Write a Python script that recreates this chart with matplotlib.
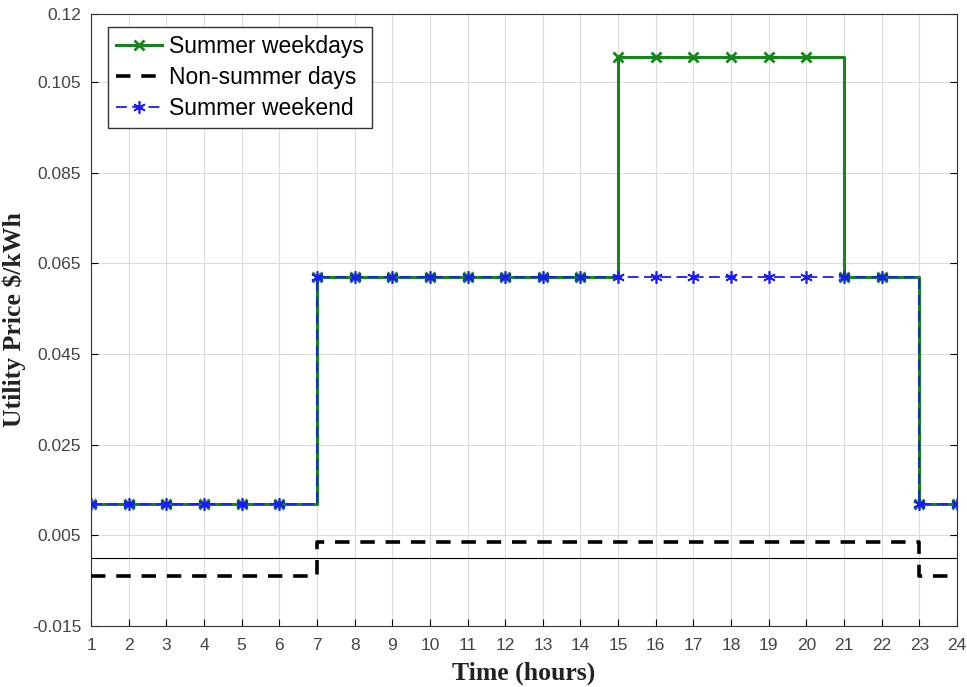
import matplotlib.pyplot as plt

hours = list(range(1, 25))
summer_weekdays = [0.012] * 6 + [0.062] * 8 + [0.1105] * 6 + [0.062] * 2 + [0.012] * 2
non_summer = [-0.004] * 6 + [0.0035] * 16 + [-0.004] * 2
summer_weekend = [0.012] * 6 + [0.062] * 16 + [0.012] * 2

yticks = [-0.015, 0.005, 0.025, 0.045, 0.065, 0.085, 0.105, 0.12]
ytick_labels = ['-0.015', '0.005', '0.025', '0.045', '0.065', '0.085', '0.105', '0.12']


def main():
    plt.rcParams['font.family'] = ['Liberation Sans', 'DejaVu Sans']
    fig = plt.figure(figsize=(9.67, 6.87), dpi=100)
    ax = fig.add_axes([91 / 967, 1 - 626 / 687, (957 - 91) / 967, (626 - 14) / 687])

    ax.axhline(0, color='black', lw=0.8, zorder=1)
    ax.plot(hours, summer_weekdays, drawstyle='steps-post', color='#15871a',
            lw=2.2, marker='x', ms=7, mew=2, label='Summer weekdays', zorder=3)
    ax.plot(hours, non_summer, drawstyle='steps-post', color='black',
            lw=2.6, ls=(0, (4, 3)), label='Non-summer days', zorder=3)
    ax.plot(hours, summer_weekend, drawstyle='steps-post', color='#1a1aff',
            lw=1.3, ls=(0, (6, 3)), marker=(6, 2, 0), ms=9, mew=1.2,
            label='Summer weekend', zorder=4)

    ax.set_xlim(1, 24)
    ax.set_ylim(-0.015, 0.12)
    ax.set_xticks(hours)
    ax.set_yticks(yticks, ytick_labels)
    ax.grid(True, color='#dcdcdc', lw=0.8)
    ax.set_axisbelow(True)
    ax.tick_params(direction='in', labelsize=12.5, labelcolor='#444444',
                   length=5, top=False, right=True)
    ax.tick_params(axis='x', pad=9)
    ax.tick_params(axis='y', pad=7)
    for s in ax.spines.values():
        s.set_color('#333333')

    ax.set_xlabel('Time (hours)', fontsize=18.5, fontweight='bold',
                  family='Liberation Serif', color='#222222', labelpad=6)
    ax.set_ylabel('Utility Price $/kWh', fontsize=18.5, fontweight='bold',
                  family='Liberation Serif', color='#222222', labelpad=4)

    leg = ax.legend(loc='upper left', fontsize=16.5, fancybox=False,
                    edgecolor='#333333', framealpha=1, handlelength=2.0,
                    handletextpad=0.3, borderpad=0.35, labelspacing=0.35,
                    borderaxespad=0, bbox_to_anchor=(0.0196, 0.979))
    leg.get_frame().set_linewidth(1.0)

    fig.savefig('out.png', dpi=100)


if __name__ == "__main__":
    main()
